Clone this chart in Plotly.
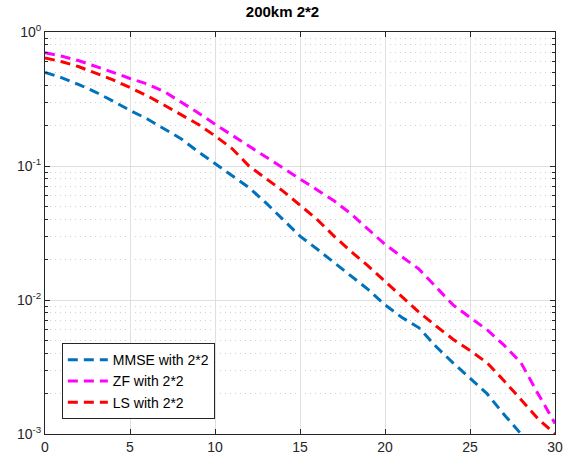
import plotly.graph_objects as go

snr = list(range(0, 31))
mmse = [0.50, 0.455, 0.405, 0.355, 0.305, 0.26, 0.225, 0.19, 0.16, 0.128, 0.104,
        0.085, 0.069, 0.053, 0.040, 0.030, 0.024, 0.019, 0.015, 0.012, 0.0092,
        0.0074, 0.0062, 0.0045, 0.0034, 0.0026, 0.0020, 0.0014, 0.0010, 0.00075, 0.00055]
zf = [0.70, 0.66, 0.61, 0.555, 0.50, 0.45, 0.41, 0.36, 0.30, 0.25, 0.205,
      0.17, 0.142, 0.118, 0.097, 0.080, 0.067, 0.055, 0.044, 0.034, 0.026,
      0.021, 0.017, 0.0125, 0.0092, 0.0074, 0.0060, 0.0046, 0.0034, 0.0020, 0.0012]
ls = [0.64, 0.60, 0.55, 0.49, 0.44, 0.385, 0.335, 0.285, 0.24, 0.205, 0.168,
      0.135, 0.10, 0.081, 0.065, 0.051, 0.040, 0.030, 0.023, 0.018, 0.0138,
      0.0105, 0.0081, 0.0064, 0.0051, 0.0042, 0.0034, 0.0025, 0.0018, 0.0013, 0.0010]

names = ["MMSE with 2*2", "ZF with 2*2", "LS with 2*2"]
colors = ["#0072BD", "#FF00FF", "#FF0000"]
ytickvals = [1e-3, 1e-2, 1e-1, 1]
yticktext = ["10<sup>-3</sup>", "10<sup>-2</sup>", "10<sup>-1</sup>", "10<sup>0</sup>"]
xtickvals = [0, 5, 10, 15, 20, 25, 30]

minor_vals = [m * 10 ** e for e in (-3, -2, -1) for m in range(2, 10)]

fig = go.Figure()
for ys, name, col in zip([mmse, zf, ls], names, colors):
    fig.add_trace(go.Scatter(x=snr, y=ys, mode="lines", name=name,
                             line=dict(color=col, width=3, dash="10px,6px")))

fig.update_layout(
    width=565, height=459,
    margin=dict(l=45, r=10, t=32, b=25, autoexpand=False),
    paper_bgcolor="white", plot_bgcolor="white",
    font=dict(family="Liberation Sans, Arial, sans-serif", size=14, color="#262626"),
    title=dict(text="<b>200km 2*2</b>", x=0.5, xanchor="center", y=0.974, yanchor="middle",
               font=dict(size=15, color="black")),
    showlegend=True,
    legend=dict(x=0.033, y=0.037, xanchor="left", yanchor="bottom",
                bgcolor="white", bordercolor="#262626", borderwidth=1,
                font=dict(size=14, color="black"), tracegroupgap=0,
                itemwidth=40),
)
fig.update_xaxes(range=[0, 30], tickvals=xtickvals, showgrid=True, gridcolor="#DFDFDF",
                 gridwidth=1, zeroline=False, showline=True, linecolor="#262626", linewidth=1,
                 mirror="ticks", ticks="inside", ticklen=5, tickcolor="#262626",
                 automargin=False)
fig.update_yaxes(type="log", range=[-3, 0], tickvals=ytickvals, ticktext=yticktext,
                 showgrid=True, gridcolor="#DFDFDF", gridwidth=1, zeroline=False,
                 showline=True, linecolor="#262626", linewidth=1, mirror="ticks",
                 ticks="inside", ticklen=5, tickcolor="#262626", automargin=False,
                 minor=dict(tickvals=minor_vals, showgrid=True, gridcolor="#D0D0D0",
                            griddash="1px,4px", ticks="inside", ticklen=3, tickcolor="#262626"))

fig.write_html("out.html", config={"displayModeBar": False},
               post_script="document.body.style.margin='0';document.body.style.overflow='hidden';")
